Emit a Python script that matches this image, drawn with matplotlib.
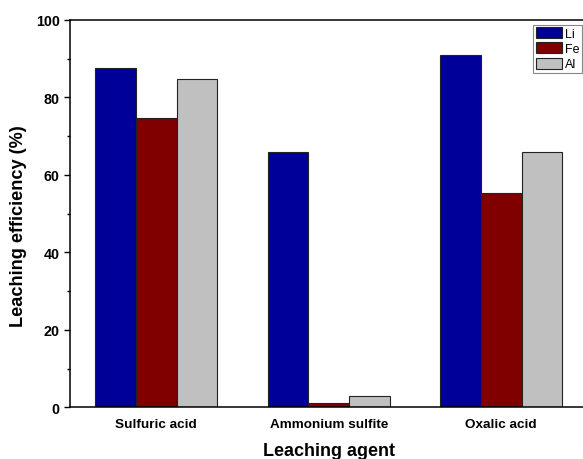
import matplotlib
matplotlib.use("Agg")
import matplotlib.pyplot as plt
import numpy as np
from matplotlib.ticker import MultipleLocator

plt.rcParams['font.family'] = ['Liberation Sans', 'DejaVu Sans']

categories = ["Sulfuric acid", "Ammonium sulfite", "Oxalic acid"]
series = ["Li", "Fe", "Al"]
li = [87.7, 65.8, 91.0]
fe = [74.8, 1.0, 55.3]
al = [84.8, 2.8, 66.0]
colors = ["#000099", "#800000", "#C0C0C0"]

fig = plt.figure(figsize=(5.83, 4.60), dpi=100)
ax = fig.add_axes([70/583, 1 - 408.3/460, (587.5 - 70)/583, (408.3 - 21)/460])

x = np.arange(len(categories))
w = 0.235
for i, (vals, name, c) in enumerate(zip([li, fe, al], series, colors)):
    ax.bar(x + (i - 1) * w, vals, width=w, color=c, edgecolor="#222222",
           linewidth=0.8, label=name)

ax.set_xlim(-0.5, 2.5)
ax.set_ylim(0, 100)
ax.yaxis.set_major_locator(MultipleLocator(20))
ax.yaxis.set_minor_locator(MultipleLocator(10))
ax.set_xticks(x)
ax.set_xticklabels(categories, fontsize=9.7, fontweight='bold')
ax.tick_params(axis='x', length=0, pad=8)
ax.tick_params(axis='y', which='major', direction='out', length=4.5, width=1, labelsize=10.3, pad=3)
ax.tick_params(axis='y', which='minor', direction='out', length=2.5, width=1)
for lab in ax.get_yticklabels():
    lab.set_fontweight('bold')
for s in ax.spines.values():
    s.set_linewidth(1.1)

ax.set_ylabel("Leaching efficiency (%)", fontsize=13.1, fontweight='bold')
ax.yaxis.set_label_coords(-0.084, 0.4707)
ax.set_xlabel("Leaching agent", fontsize=13, fontweight='bold', labelpad=8)

leg = ax.legend(loc='upper left', bbox_to_anchor=(533/583, 1 - 25.7/460),
                bbox_transform=fig.transFigure, borderaxespad=0,
                fontsize=9, handlelength=2.1, handleheight=0.96, labelspacing=0.2,
                borderpad=0.2, handletextpad=0.25, fancybox=False, framealpha=1,
                edgecolor='#888888')
leg.get_frame().set_linewidth(0.8)

fig.savefig("out.png", dpi=100)
